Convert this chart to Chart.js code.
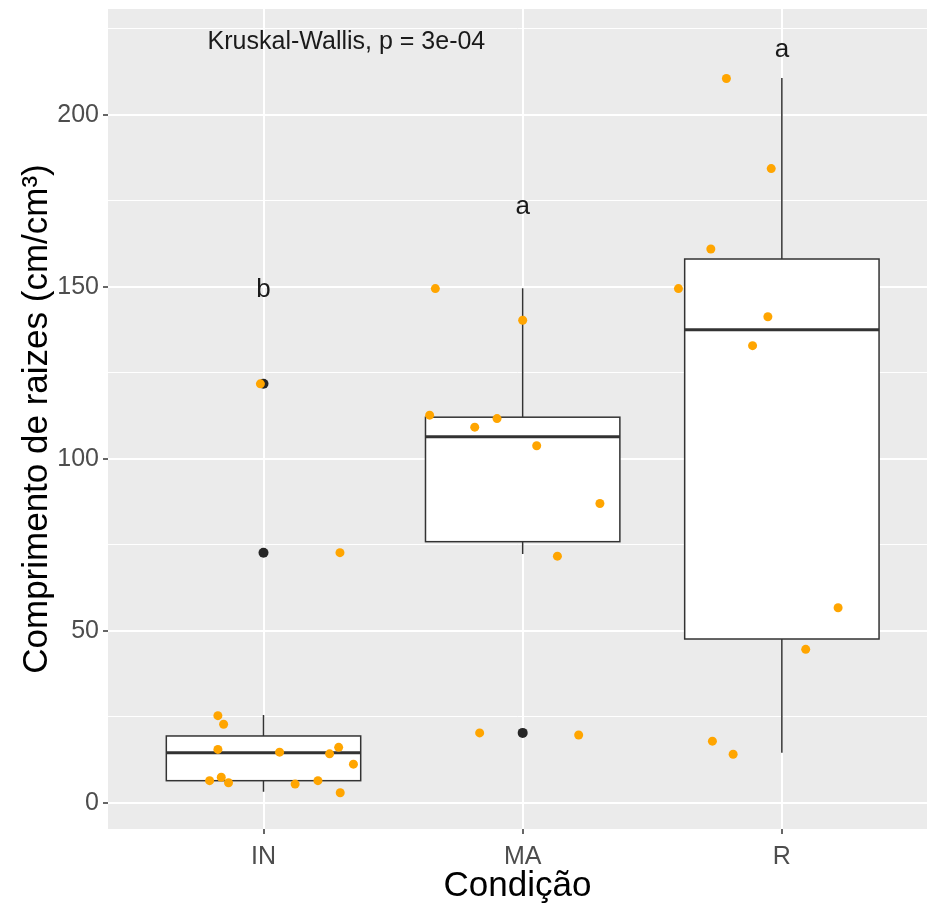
<!DOCTYPE html>
<html>
<head>
<meta charset="utf-8">
<script src="https://cdn.jsdelivr.net/npm/chart.js@4"></script>
<style>
  html, body { margin: 0; padding: 0; background: #fff; overflow: hidden; }
  canvas { display: block; }
</style>
</head>
<body>
<canvas id="myChart" width="932" height="907"></canvas>
<script>
// groups on the x axis
const categories = ['IN', 'MA', 'R'];

// boxplot statistics per group
const whiskerLow = [3.2, 72.3, 14.5];
const q1 = [6.4, 75.9, 47.6];
const median = [14.5, 106.4, 137.5];
const q3 = [19.4, 112.1, 158.1];
const whiskerHigh = [25.5, 149.6, 210.7];
const outliers = [[121.8, 72.7], [20.3], []];

// jittered raw observations (value, horizontal jitter in category units)
const inValues = [25.3, 22.8, 15.5, 14.7, 14.2, 16.1, 11.2, 6.4, 7.4, 5.8, 5.4, 6.4, 2.9, 121.8, 72.7];
const inJitter = [-0.176, -0.154, -0.176, 0.062, 0.255, 0.290, 0.347, -0.208, -0.163, -0.135, 0.122, 0.210, 0.296, -0.012, 0.295];
const maValues = [149.5, 140.3, 112.7, 111.7, 109.2, 103.8, 87.0, 71.7, 20.3, 19.7];
const maJitter = [-0.337, 0.0, -0.359, -0.099, -0.185, 0.054, 0.298, 0.134, -0.166, 0.216];
const rValues = [210.6, 184.4, 161.0, 149.5, 141.3, 132.9, 56.7, 44.6, 17.9, 14.1];
const rJitter = [-0.214, -0.041, -0.274, -0.399, -0.054, -0.113, 0.217, 0.092, -0.268, -0.188];

// annotations
const groupLetters = ['b', 'a', 'a'];
const letterY = [149.1, 173.2, 218.9];
const testLabel = 'Kruskal-Wallis, p = 3e-04';
const testLabelPos = { x: 1.32, y: 221.3 };

// y tick labels
const yTicks = [0, 25, 50, 75, 100, 125, 150, 175, 200, 225];

const FONT = '"Liberation Sans", Arial, sans-serif';
const BOX_WIDTH = 0.75;

const jitterPoints = [];
[[inValues, inJitter], [maValues, maJitter], [rValues, rJitter]].forEach(([vals, jit], i) => {
  vals.forEach((v, j) => jitterPoints.push({ x: i + 1 + jit[j], y: v }));
});

const outlierPoints = [];
outliers.forEach((list, i) => list.forEach(v => outlierPoints.push({ x: i + 1, y: v })));

const panelBg = {
  id: 'panelBg',
  beforeDraw(chart) {
    const { ctx, chartArea: a } = chart;
    ctx.save();
    ctx.fillStyle = '#EBEBEB';
    ctx.fillRect(a.left, a.top, a.right - a.left, a.bottom - a.top);
    ctx.restore();
  },
};

const boxes = {
  id: 'boxes',
  beforeDatasetsDraw(chart) {
    const { ctx, scales: { x, y } } = chart;
    ctx.save();
    ctx.strokeStyle = '#333333';
    ctx.lineWidth = 1.5;
    categories.forEach((c, i) => {
      const cx = x.getPixelForValue(i + 1);
      const left = x.getPixelForValue(i + 1 - BOX_WIDTH / 2);
      const right = x.getPixelForValue(i + 1 + BOX_WIDTH / 2);
      const yLo = y.getPixelForValue(whiskerLow[i]);
      const yQ1 = y.getPixelForValue(q1[i]);
      const yMed = y.getPixelForValue(median[i]);
      const yQ3 = y.getPixelForValue(q3[i]);
      const yHi = y.getPixelForValue(whiskerHigh[i]);

      ctx.beginPath();
      ctx.moveTo(cx, yHi);
      ctx.lineTo(cx, yQ3);
      ctx.moveTo(cx, yQ1);
      ctx.lineTo(cx, yLo);
      ctx.stroke();

      ctx.fillStyle = '#ffffff';
      ctx.fillRect(left, yQ3, right - left, yQ1 - yQ3);
      ctx.strokeRect(left, yQ3, right - left, yQ1 - yQ3);

      ctx.lineWidth = 3;
      ctx.beginPath();
      ctx.moveTo(left, yMed);
      ctx.lineTo(right, yMed);
      ctx.stroke();
      ctx.lineWidth = 1.5;
    });
    ctx.restore();
  },
};

const labels = {
  id: 'labels',
  afterDatasetsDraw(chart) {
    const { ctx, scales: { x, y } } = chart;
    ctx.save();
    ctx.fillStyle = '#1a1a1a';
    ctx.textAlign = 'center';
    ctx.textBaseline = 'middle';
    ctx.font = '26px ' + FONT;
    groupLetters.forEach((l, i) => {
      ctx.fillText(l, x.getPixelForValue(i + 1), y.getPixelForValue(letterY[i]));
    });
    ctx.font = '25px ' + FONT;
    ctx.fillText(testLabel, x.getPixelForValue(testLabelPos.x), y.getPixelForValue(testLabelPos.y));
    ctx.restore();
  },
};

new Chart('myChart', {
  type: 'scatter',
  data: {
    datasets: [
      {
        data: jitterPoints,
        backgroundColor: '#FFA500',
        borderWidth: 0,
        pointRadius: 4.5,
      },
      {
        data: outlierPoints,
        backgroundColor: '#262626',
        borderWidth: 0,
        pointRadius: 5,
      },
    ],
  },
  options: {
    responsive: false,
    animation: false,
    layout: { padding: { top: 9, right: 0, left: 0, bottom: 0 } },
    plugins: {
      legend: { display: false },
      tooltip: { enabled: false },
    },
    scales: {
      x: {
        type: 'linear',
        min: 0.4,
        max: 3.56,
        afterBuildTicks: (s) => { s.ticks = categories.map((c, i) => ({ value: i + 1 })); },
        afterFit: (s) => { s.height = 78; s.paddingLeft = 0; s.paddingRight = 0; },
        border: { display: false },
        grid: { color: '#ffffff', lineWidth: 2, tickLength: 5, tickColor: '#333333', tickWidth: 1.5 },
        ticks: {
          callback: (v) => categories[v - 1],
          color: '#4d4d4d',
          font: { family: FONT, size: 25 },
          padding: 8,
          maxRotation: 0,
        },
        title: {
          display: true,
          text: 'Condição',
          color: '#000000',
          font: { family: FONT, size: 35 },
          padding: { top: -3, bottom: 0 },
        },
      },
      y: {
        min: -7.65,
        max: 230.8,
        afterBuildTicks: (s) => { s.ticks = yTicks.map(v => ({ value: v })); },
        afterFit: (s) => { s.width = 108; s.paddingTop = 0; s.paddingBottom = 0; },
        border: { display: false },
        grid: {
          color: '#ffffff',
          lineWidth: (c) => (c.tick && c.tick.value % 50 === 0 ? 2 : 1),
          tickLength: 5,
          tickColor: (c) => (c.tick && c.tick.value % 50 === 0 ? '#333333' : 'rgba(0,0,0,0)'),
          tickWidth: 1.5,
        },
        ticks: {
          callback: (v) => (v % 50 === 0 ? v : ''),
          color: '#4d4d4d',
          font: { family: FONT, size: 25 },
          padding: 4,
        },
        title: {
          display: true,
          text: 'Comprimento de raizes (cm/cm³)',
          color: '#000000',
          font: { family: FONT, size: 35 },
          padding: { top: 16, bottom: 0 },
        },
      },
    },
  },
  plugins: [panelBg, boxes, labels],
});
</script>
</body>
</html>
